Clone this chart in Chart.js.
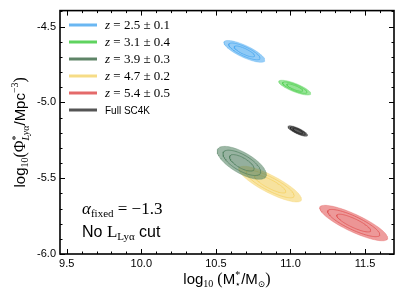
<!DOCTYPE html>
<html>
<head>
<meta charset="utf-8">
<script src="https://cdn.jsdelivr.net/npm/chart.js@4.4.1/dist/chart.umd.min.js"></script>
<style>
  html, body { margin: 0; padding: 0; background: #fff; }
  canvas { display: block; }
</style>
</head>
<body>
<canvas id="chart" width="404" height="303"></canvas>
<script>
// ── Data ─────────────────────────────────────────────
// one entry per sample: blue, green, dark green, yellow, red, full SC4K
const sampleZ      = ['2.5 ± 0.1', '3.1 ± 0.4', '3.9 ± 0.3', '4.7 ± 0.2', '5.4 ± 0.5', null];
const sampleName   = [null, null, null, null, null, 'Full SC4K'];
const centerMass   = [10.691, 11.029, 10.674, 10.864, 11.424, 11.049];   // log10(M*/Msun)
const centerPhi    = [-4.664, -4.903, -5.399, -5.539, -5.796, -5.189];   // log10(Phi*)
const sigmaMass    = [0.0457, 0.0357, 0.0550, 0.0700, 0.0760, 0.0219];
const sigmaPhi     = [0.0240, 0.0163, 0.0363, 0.0393, 0.0390, 0.0116];
const correlation  = [-0.80, -0.80, -0.70, -0.84, -0.84, -0.80];
const contourLevels = [3.0, 2.3, 1.5];    // outer -> inner, in sigma

const xTicks = [9.5, 10.0, 10.5, 11.0, 11.5];
const yTicks = [-6.0, -5.5, -5.0, -4.5];
const xMinor = [9.6, 9.7, 9.8, 9.9, 10.1, 10.2, 10.3, 10.4, 10.6, 10.7, 10.8, 10.9,
                11.1, 11.2, 11.3, 11.4, 11.6];
const yMinor = [-5.9, -5.8, -5.7, -5.6, -5.4, -5.3, -5.2, -5.1, -4.9, -4.8, -4.7, -4.6, -4.4];

// ── Style ────────────────────────────────────────────
const lineColors = ['#6ab7f2', '#5fd35f', '#5e8467', '#f6dc86', '#e46a6a', '#555555'];
const fillRGB    = ['74,168,240', '80,208,80', '78,127,94', '245,208,96', '224,80,80', '40,40,40'];
const fillAlpha  = [0.56, 0.06, 0.06];
const drawRank   = [0, 1, 3, 2, 4, 5];   // dark green sits above yellow
const SANS  = '"Liberation Sans", Arial, sans-serif';
const SERIF = '"Liberation Serif", "DejaVu Serif", serif';

// contour outline from centre + covariance
function ellipsePoints(g, k) {
  const pts = [];
  const r = correlation[g];
  const q = Math.sqrt(1 - r * r);
  for (let i = 0; i <= 90; i++) {
    const t = (i / 90) * Math.PI * 2;
    pts.push({
      x: centerMass[g] + k * sigmaMass[g] * Math.cos(t),
      y: centerPhi[g] + k * sigmaPhi[g] * (r * Math.cos(t) + q * Math.sin(t)),
    });
  }
  return pts;
}

const datasets = [];
centerMass.forEach((_, g) => {
  contourLevels.forEach((k, li) => {
    datasets.push({
      data: ellipsePoints(g, k),
      borderColor: `rgba(${fillRGB[g]},${li === 0 ? 0.3 : 0.7})`,
      borderWidth: 1,
      backgroundColor: `rgba(${fillRGB[g]},${g === 5 ? fillAlpha[li] + 0.1 : fillAlpha[li]})`,
      fill: 'shape',
      pointRadius: 0,
      tension: 0,
      order: 1000 - (drawRank[g] * 10 + li),
    });
  });
});

// ── Rich text helper (sub/superscripts) ─────────────
function richWidth(ctx, parts) {
  return parts.reduce((w, p) => {
    ctx.font = p.f;
    return p.keep ? w : w + ctx.measureText(p.t).width;
  }, 0);
}
function drawRich(ctx, parts, x, y, align) {
  let cx = align === 'center' ? x - richWidth(ctx, parts) / 2 : x;
  ctx.textBaseline = 'alphabetic';
  ctx.textAlign = 'left';
  parts.forEach(p => {
    ctx.font = p.f;
    ctx.fillText(p.t, cx, y + (p.dy || 0));
    if (!p.keep) cx += ctx.measureText(p.t).width;   // keep: stack next part on same x
  });
}

// ── Decorations plugin: frame, inward ticks, legend, titles ──
const decor = {
  id: 'decor',
  afterDraw(chart) {
    const { ctx, chartArea: a, scales: { x, y } } = chart;
    ctx.save();
    ctx.strokeStyle = '#000';
    ctx.fillStyle = '#000';

    // ticks on all four sides, pointing in
    ctx.lineWidth = 1;
    ctx.beginPath();
    const tickX = (v, len) => {
      const px = Math.round(x.getPixelForValue(v)) + 0.5;
      ctx.moveTo(px, a.bottom); ctx.lineTo(px, a.bottom - len);
      ctx.moveTo(px, a.top);    ctx.lineTo(px, a.top + len);
    };
    const tickY = (v, len) => {
      const py = Math.round(y.getPixelForValue(v)) + 0.5;
      ctx.moveTo(a.left, py);  ctx.lineTo(a.left + len, py);
      ctx.moveTo(a.right, py); ctx.lineTo(a.right - len, py);
    };
    xTicks.forEach(v => tickX(v, 5));
    xMinor.forEach(v => tickX(v, 2.5));
    yTicks.forEach(v => tickY(v, 5));
    yMinor.forEach(v => tickY(v, 2.5));
    ctx.stroke();

    ctx.lineWidth = 1.6;
    ctx.strokeRect(a.left, a.top, a.right - a.left, a.bottom - a.top);

    // legend
    sampleZ.forEach((z, g) => {
      const ly = 25 + g * 17;
      ctx.strokeStyle = lineColors[g];
      ctx.lineWidth = 3;
      ctx.beginPath();
      ctx.moveTo(69, ly); ctx.lineTo(97, ly);
      ctx.stroke();
      ctx.fillStyle = '#000';
      if (z) {
        drawRich(ctx, [
          { t: 'z', f: `italic 13px ${SERIF}` },
          { t: ' = ' + z, f: `13px ${SERIF}` },
        ], 105, ly + 4, 'left');
      } else {
        drawRich(ctx, [{ t: sampleName[g], f: `10px ${SANS}` }], 105, ly + 4, 'left');
      }
    });

    // annotation
    ctx.fillStyle = '#000';
    drawRich(ctx, [
      { t: 'α', f: `italic 17px ${SERIF}` },
      { t: 'fixed', f: `11px ${SERIF}`, dy: 3 },
      { t: ' = −1.3', f: `17px ${SERIF}` },
    ], 82, 214, 'left');
    drawRich(ctx, [
      { t: 'No ', f: `16px ${SANS}` },
      { t: 'L', f: `17px ${SERIF}` },
      { t: 'Lyα', f: `11px ${SERIF}`, dy: 3 },
      { t: ' cut', f: `16px ${SANS}` },
    ], 82, 237, 'left');

    // x title
    drawRich(ctx, [
      { t: 'log', f: `15px ${SANS}` },
      { t: '10', f: `10px ${SERIF}`, dy: 3 },
      { t: ' (', f: `16px ${SERIF}` },
      { t: 'M', f: `15px ${SANS}` },
      { t: '*', f: `10px ${SERIF}`, dy: -6, keep: true },
      { t: '⋆', f: `9px ${SERIF}`, dy: 3 },
      { t: '/', f: `15px ${SANS}` },
      { t: 'M', f: `15px ${SANS}` },
      { t: '⊙', f: `9px ${SERIF}`, dy: 3 },
      { t: ')', f: `16px ${SERIF}` },
    ], (a.left + a.right) / 2, 284, 'center');

    // y title (rotated)
    ctx.save();
    ctx.translate(25, (a.top + a.bottom) / 2);
    ctx.rotate(-Math.PI / 2);
    drawRich(ctx, [
      { t: 'log', f: `15px ${SANS}` },
      { t: '10', f: `10px ${SERIF}`, dy: 3 },
      { t: '(Φ', f: `16px ${SERIF}` },
      { t: '*', f: `10px ${SERIF}`, dy: -6, keep: true },
      { t: 'Lyα', f: `italic 10px ${SERIF}`, dy: 4 },
      { t: '/Mpc', f: `15px ${SANS}` },
      { t: '−3', f: `10px ${SERIF}`, dy: -7 },
      { t: ')', f: `16px ${SERIF}` },
    ], 0, 0, 'center');
    ctx.restore();

    ctx.restore();
  },
};

// ── Chart ────────────────────────────────────────────
new Chart(document.getElementById('chart'), {
  type: 'line',
  data: { datasets },
  options: {
    responsive: false,
    animation: false,
    events: [],
    layout: { padding: { top: 9, right: 10, left: 0, bottom: 0 } },
    plugins: { legend: { display: false }, tooltip: { enabled: false } },
    scales: {
      x: {
        type: 'linear',
        min: 9.455,
        max: 11.694,
        afterBuildTicks: s => { s.ticks = xTicks.map(v => ({ value: v })); },
        afterFit: s => { s.height = 49; },
        grid: { display: false, drawTicks: false },
        border: { display: false },
        ticks: {
          callback: v => v.toFixed(1),
          font: { family: SANS, size: 11 },
          color: '#000',
          padding: 3,
          maxRotation: 0,
          autoSkip: false,
        },
      },
      y: {
        type: 'linear',
        min: -6.0,
        max: -4.395,
        afterBuildTicks: s => { s.ticks = yTicks.map(v => ({ value: v })); },
        afterFit: s => { s.width = 60; },
        grid: { display: false, drawTicks: false },
        border: { display: false },
        ticks: {
          callback: v => v.toFixed(1),
          font: { family: SANS, size: 11 },
          color: '#000',
          padding: 4,
          autoSkip: false,
        },
      },
    },
  },
  plugins: [decor],
});
</script>
</body>
</html>
